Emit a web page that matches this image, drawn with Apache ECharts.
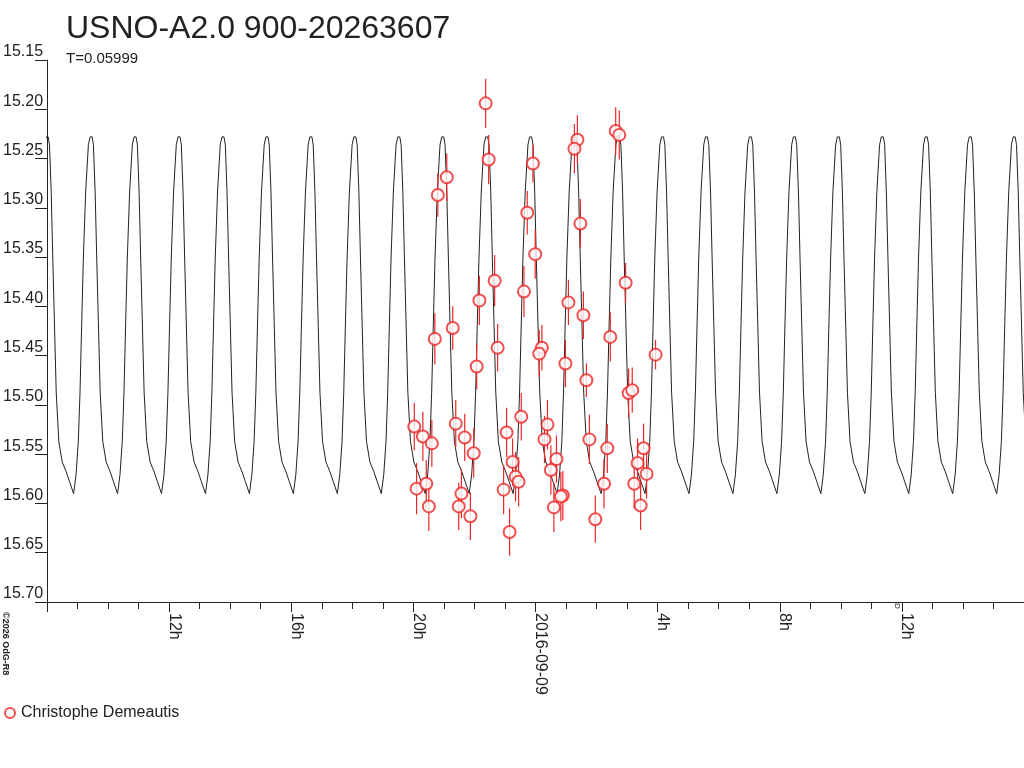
<!DOCTYPE html>
<html>
<head>
<meta charset="utf-8">
<script src="https://cdn.jsdelivr.net/npm/echarts@6/dist/echarts.min.js"></script>
<style>
html,body{margin:0;padding:0;background:#fff;}
#chart{width:1024px;height:768px;}
</style>
</head>
<body>
<div id="chart"></div>
<script>
// ---------------- data ----------------
const TITLE = 'USNO-A2.0 900-20263607';
const SUBTITLE = 'T=0.05999';
const OBSERVER = 'Christophe Demeautis';
const PERIOD_HOURS = 0.05999 * 24;          // period given on the chart (days -> hours)

// observation times: hours relative to 2016-09-09 00:00
const obsHours = [
  -1.633, -1.535, -2.907, -3.200, -0.085, -0.271, -0.010, -1.339, -1.839, -0.379,
  -3.298, -2.711, -1.241, -1.927, -3.971, -3.690, -3.396, -2.613, -2.319, -2.025,
  -0.947, -0.467, -0.751, -0.653, -0.555, -3.896, -3.579, -3.494, -2.427, -2.515,
  -2.133, -1.045, -0.849,
  1.372, 1.274, 2.626, 2.743, 1.470, 2.952, 1.078, 1.568, 0.209, 0.121,
  0.980, 2.449, 3.932, 1.666, 3.050, 3.168, 0.392, 0.294, 0.686, 0.503,
  1.764, 2.351, 2.244, 1.959, 0.601, 0.895, 0.830, 3.540, 3.344, 3.638,
  3.233, 3.442
];
const obsMag = [
  15.194, 15.251, 15.269, 15.287, 15.255, 15.305, 15.347, 15.374, 15.394, 15.385,
  15.433, 15.422, 15.442, 15.461, 15.522, 15.532, 15.539, 15.519, 15.533, 15.549,
  15.528, 15.512, 15.558, 15.573, 15.578, 15.585, 15.580, 15.603, 15.590, 15.603,
  15.613, 15.586, 15.629,
  15.231, 15.240, 15.222, 15.226, 15.316, 15.376, 15.396, 15.409, 15.442, 15.448,
  15.458, 15.431, 15.449, 15.475, 15.488, 15.485, 15.520, 15.535, 15.555, 15.566,
  15.535, 15.544, 15.580, 15.616, 15.604, 15.592, 15.593, 15.544, 15.559, 15.570,
  15.580, 15.602
];
const obsErr = [
  0.025, 0.025, 0.024, 0.022, 0.019, 0.022, 0.025, 0.026, 0.025, 0.026,
  0.026, 0.022, 0.024, 0.023, 0.024, 0.025, 0.024, 0.024, 0.024, 0.025,
  0.025, 0.024, 0.024, 0.025, 0.025, 0.026, 0.024, 0.025, 0.025, 0.024,
  0.024, 0.025, 0.024,
  0.025, 0.025, 0.024, 0.025, 0.025, 0.020, 0.023, 0.024, 0.023, 0.024,
  0.024, 0.025, 0.015, 0.017, 0.025, 0.023, 0.025, 0.024, 0.024, 0.025,
  0.025, 0.025, 0.025, 0.024, 0.025, 0.025, 0.025, 0.025, 0.025, 0.025,
  0.025, 0.025
];

// model light curve: one cycle (phase after maximum, magnitude)
const modelPhase = [0.000, 0.023, 0.053, 0.092, 0.128, 0.167, 0.206, 0.265, 0.343, 0.435,
                    0.510, 0.602, 0.657, 0.709, 0.748, 0.785, 0.824, 0.876, 0.938, 0.977];
const modelMag   = [15.227, 15.228, 15.236, 15.284, 15.351, 15.419, 15.487, 15.537, 15.558, 15.568,
                    15.578, 15.590, 15.571, 15.537, 15.487, 15.419, 15.351, 15.284, 15.236, 15.228];
const modelMaxHour = 5.60;   // time of one maximum (hours from 2016-09-09 00:00)

// axis
const xMin = -16, xMax = 16;
const xTickLabels = { '-12': '12h', '-8': '16h', '-4': '20h', '0': '2016-09-09', '4': '4h', '8': '8h', '12': '12h' };
const yMin = 15.15, yMax = 15.70, yStep = 0.05;

// ---------------- build series ----------------
const model = [];
const kStart = Math.floor((xMin - 1 - modelMaxHour) / PERIOD_HOURS);
const kEnd = Math.ceil((xMax + 1 - modelMaxHour) / PERIOD_HOURS);
for (let k = kStart; k <= kEnd; k++) {
  for (let i = 0; i < modelPhase.length; i++) {
    const t = modelMaxHour + (k + modelPhase[i]) * PERIOD_HOURS;
    model.push([t, modelMag[i]]);
  }
}
const obs = obsHours.map((t, i) => [t, obsMag[i]]);
const bars = obsHours.map((t, i) => [t, obsMag[i] - obsErr[i], obsMag[i] + obsErr[i]]);

const RED = '#ee2626';
const INK = '#222';
const FONT = '"Liberation Sans", Arial, sans-serif';

const chart = echarts.init(document.getElementById('chart'), null, { renderer: 'canvas' });
chart.setOption({
  animation: false,
  backgroundColor: '#fff',
  textStyle: { fontFamily: FONT },
  grid: { left: 45, right: 0, top: 60, bottom: 166, containLabel: false },
  legend: {
    data: [OBSERVER],
    left: 4, top: 705, padding: 0,
    itemWidth: 10, itemHeight: 10, itemGap: 10,
    textStyle: { fontSize: 16, color: INK, fontFamily: FONT, padding: [0, 0, 0, 1] }
  },
  graphic: [
    { type: 'text', left: 66, top: 13, style: { text: TITLE, font: '32px ' + FONT, fill: INK } },
    { type: 'text', left: 66, top: 51, style: { text: SUBTITLE, font: '15px ' + FONT, fill: INK } },
    { type: 'text', x: 10, y: 612, rotation: -Math.PI / 2,
      style: { text: '\u00a92026 OdG-R8', font: 'bold 9px ' + FONT, fill: INK, textAlign: 'left', textVerticalAlign: 'top' } },
    { type: 'text', x: 901, y: 603, rotation: -Math.PI / 2,
      style: { text: 'D', font: '8px ' + FONT, fill: INK, textAlign: 'left', textVerticalAlign: 'top' } }
  ],
  xAxis: {
    type: 'value', min: xMin, max: xMax, interval: 4,
    axisLine: { show: true, onZero: false, lineStyle: { color: INK, width: 1 } },
    axisTick: { show: true, length: 10, lineStyle: { color: INK } },
    minorTick: { show: true, splitNumber: 4, length: 7, lineStyle: { color: INK } },
    splitLine: { show: false },
    minorSplitLine: { show: false },
    axisLabel: {
      rotate: -90, margin: 11, fontSize: 16, color: INK, fontFamily: FONT,
      verticalAlign: 'bottom', lineHeight: 10,
      showMinLabel: false, showMaxLabel: false,
      formatter: v => xTickLabels[String(Math.round(v))] || ''
    }
  },
  yAxis: {
    type: 'value', inverse: true, min: yMin, max: yMax, interval: yStep,
    axisLine: { show: true, onZero: false, lineStyle: { color: INK, width: 1 } },
    axisTick: { show: true, length: 12, lineStyle: { color: INK } },
    splitLine: { show: false },
    axisLabel: {
      margin: 4, fontSize: 16, color: INK, fontFamily: FONT,
      verticalAlign: 'bottom', lineHeight: 16,
      formatter: v => v.toFixed(2)
    }
  },
  series: [
    {
      name: 'model', type: 'line', data: model, showSymbol: false, symbol: 'none',
      lineStyle: { color: INK, width: 1 }, clip: true, silent: true, z: 1
    },
    {
      name: 'errors', type: 'custom', data: bars, z: 2, silent: true, clip: true,
      encode: { x: 0, y: [1, 2] },
      renderItem: (params, api) => {
        const a = api.coord([api.value(0), api.value(1)]);
        const b = api.coord([api.value(0), api.value(2)]);
        return { type: 'line', shape: { x1: a[0], y1: a[1], x2: b[0], y2: b[1] },
                 style: { stroke: RED, lineWidth: 1.2 } };
      }
    },
    {
      name: OBSERVER, type: 'scatter', data: obs, symbol: 'emptyCircle', symbolSize: 12,
      itemStyle: { color: RED, borderColor: RED, borderWidth: 0.9 }, z: 3
    }
  ]
});
</script>
</body>
</html>
